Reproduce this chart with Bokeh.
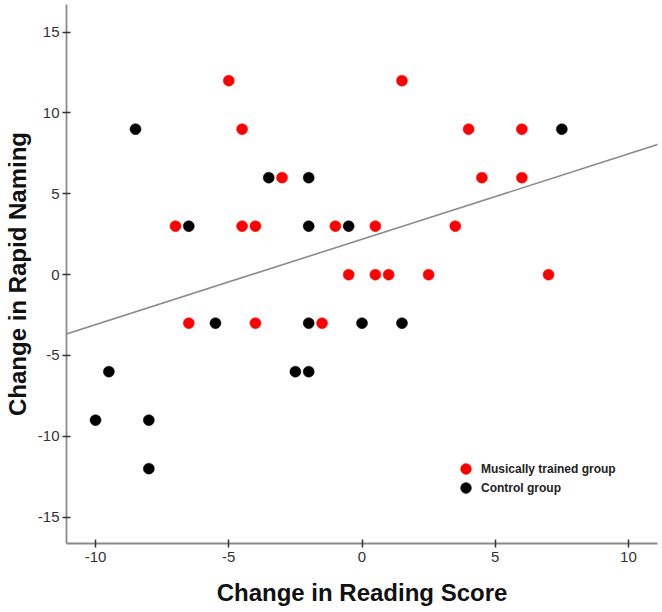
from bokeh.plotting import figure
from bokeh.models import ColumnDataSource, FixedTicker, Slope, Legend, LegendItem, Range1d
from bokeh.embed import file_html
from bokeh.resources import INLINE

# Musically trained group
music_x = [-5, 1.5, -4.5, 4, 6, -3, 4.5, 6, -7, -4.5, -4, -1, 0.5, 3.5,
           -0.5, 0.5, 1, 2.5, 7, -6.5, -4, -1.5]
music_y = [12, 12, 9, 9, 9, 6, 6, 6, 3, 3, 3, 3, 3, 3,
           0, 0, 0, 0, 0, -3, -3, -3]

# Control group
control_x = [-8.5, 7.5, -3.5, -2, -6.5, -2, -0.5, -5.5, -2, 0, 1.5,
             -2.5, -2, -9.5, -10, -8, -8]
control_y = [9, 9, 6, 6, 3, 3, 3, -3, -3, -3, -3,
             -6, -6, -6, -9, -9, -12]

# Fit line
fit_slope = 0.528
fit_intercept = 2.19

x_ticks = [-10, -5, 0, 5, 10]
x_tick_labels = ["-10", "-5", "0", "5", "10"]
y_ticks = [-15, -10, -5, 0, 5, 10, 15]
y_tick_labels = ["-15", "-10", "-5", "0", "5", "10", "15"]

FONT = "Liberation Sans"

p = figure(width=660, height=608, output_backend="svg", toolbar_location=None,
           x_range=Range1d(-11.09, 11.09), y_range=Range1d(-16.63, 16.71),
           min_border_left=0, min_border_right=3, min_border_top=4, min_border_bottom=0)
p.outline_line_color = None
p.xgrid.visible = False
p.ygrid.visible = False

p.add_layout(Slope(gradient=fit_slope, y_intercept=fit_intercept,
                   line_color="#8c8c8c", line_width=1.6))

src_m = ColumnDataSource(dict(x=music_x, y=music_y))
src_c = ColumnDataSource(dict(x=control_x, y=control_y))
r_m = p.scatter("x", "y", source=src_m, size=11, fill_color="#ff0000", line_color="#ff0000", line_width=0.5)
r_c = p.scatter("x", "y", source=src_c, size=11, fill_color="#000000", line_color="#000000", line_width=0.5)

for ax, ticks, labels in ((p.xaxis[0], x_ticks, x_tick_labels), (p.yaxis[0], y_ticks, y_tick_labels)):
    ax.ticker = FixedTicker(ticks=ticks)
    ax.major_label_overrides = {t: s for t, s in zip(ticks, labels)}
    ax.minor_tick_line_color = None
    ax.axis_line_color = "#8a8a8a"
    ax.axis_line_width = 1.8
    ax.major_tick_line_color = "#333333"
    ax.major_tick_line_width = 1.5
    ax.major_tick_in = 4
    ax.major_tick_out = 4
    ax.major_label_text_font = FONT
    ax.major_label_text_font_size = "15px"
    ax.major_label_text_color = "#333333"
    ax.axis_label_text_font = FONT
    ax.axis_label_text_font_style = "bold"
    ax.axis_label_text_font_size = "24px"
    ax.axis_label_text_color = "#111111"

p.xaxis.axis_label = "Change in Reading Score"
p.yaxis.axis_label = "Change in Rapid Naming"
p.xaxis.major_label_standoff = 4
p.xaxis.axis_label_standoff = 14
p.yaxis.major_label_standoff = 3
p.yaxis.axis_label_standoff = 4

def make_legend(label, renderer, loc):
    lg = Legend(items=[LegendItem(label=label, renderers=[renderer])], location=loc)
    lg.padding = 0
    lg.margin = 0
    lg.border_line_color = None
    lg.background_fill_alpha = 0
    lg.glyph_width = 27
    lg.glyph_height = 27
    lg.label_height = 27
    lg.label_standoff = 2
    lg.label_text_font = FONT
    lg.label_text_font_style = "bold"
    lg.label_text_font_size = "12px"
    lg.label_text_color = "#222222"
    p.add_layout(lg, "center")

make_legend("Musically trained group", r_m, (386, 61))
make_legend("Control group", r_c, (386, 42))

open("out.html", "w").write(file_html(p, INLINE))
